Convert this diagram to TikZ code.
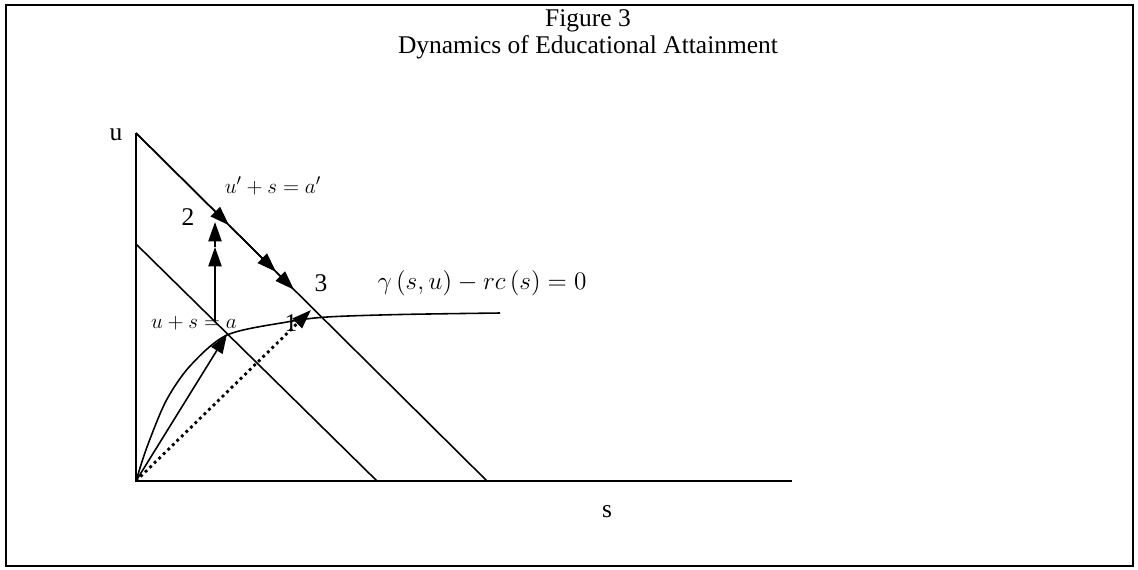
\documentclass[tikz,border=0pt]{standalone}
\usepackage{amsmath}
\usepackage{fontspec}
\setmainfont{Liberation Serif}
\usetikzlibrary{shapes,arrows,arrows.meta,positioning}

\begin{document}
\begin{tikzpicture}[
    x=0.02cm, y=-0.02cm,
    line width=0.9pt,
    lbl/.style={font=\fontsize{14.5}{16}\selectfont, inner sep=0pt},
    eq/.style={font=\fontsize{13}{15}\selectfont, inner sep=0pt},
    arrow/.style={-{Triangle[length=11pt,width=7.5pt]}},
    dotarrow/.style={arrow, dotted, line width=1.6pt}
]
    \useasboundingbox (0,0) rectangle (1138,569);
    \draw[line width=1pt] (6,5) rectangle (1133,566);

    \node[lbl] (title) at (588,21) {Figure 3};
    \node[lbl, below=0.04cm of title] (subtitle) {Dynamics of Educational Attainment};

    % axes
    \coordinate (O) at (136,481);
    \coordinate (ytop) at (136,133);
    \coordinate (xend) at (792,481);
    \draw[line width=1.1pt] (ytop) -- (O) -- (xend);
    \node[lbl] (ulab) at (116,135) {u};
    \node[lbl] (slab) at (607,512) {s};

    % budget lines
    \coordinate (atop) at (136,133);
    \coordinate (abot) at (487,481);
    \coordinate (btop) at (136,244);
    \coordinate (bbot) at (377,481);
    \draw (atop) -- (abot);
    \draw (btop) -- (bbot);

    % gamma(s,u) - rc(s) = 0
    \draw plot[smooth, tension=0.5] coordinates {(136,481) (147,447) (166,401) (190,366) (227,335) (287,322) (327,317) (400,314.5) (500,313)};

    % movements
    \coordinate (p1) at (227,334);
    \coordinate (p1dot) at (311,310);
    \coordinate (vbot) at (215,322);
    \coordinate (vmid) at (215,247);
    \coordinate (vtop) at (215,222);
    \coordinate (tipA) at (229,225.2);
    \coordinate (tipB) at (276,271.8);
    \coordinate (tipC) at (294,289.7);
    \draw[arrow] (O) -- (p1);
    \draw[dotarrow] (O) -- (p1dot);
    \draw[arrow] (vbot) -- (vmid);
    \draw[arrow] (vmid) -- (vtop);
    \draw[arrow] (atop) -- (tipA);
    \draw[arrow] (tipA) -- (tipB);
    \draw[arrow] (tipB) -- (tipC);

    \node[eq] (outerlab) at (273,186) {$u'+s=a'$};
    \node[eq] (innerlab) at (194,323) {$u+s=a$};
    \node[lbl] (two) at (188,217) {2};
    \node[lbl] (three) at (321,283) {3};
    \node[lbl] (one) at (291,323) {1};
    \node[eq, font=\fontsize{14.5}{17}\selectfont] (curvelab) at (482,283) {$\gamma\left(s,u\right)-rc\left(s\right)=0$};
\end{tikzpicture}
\end{document}
